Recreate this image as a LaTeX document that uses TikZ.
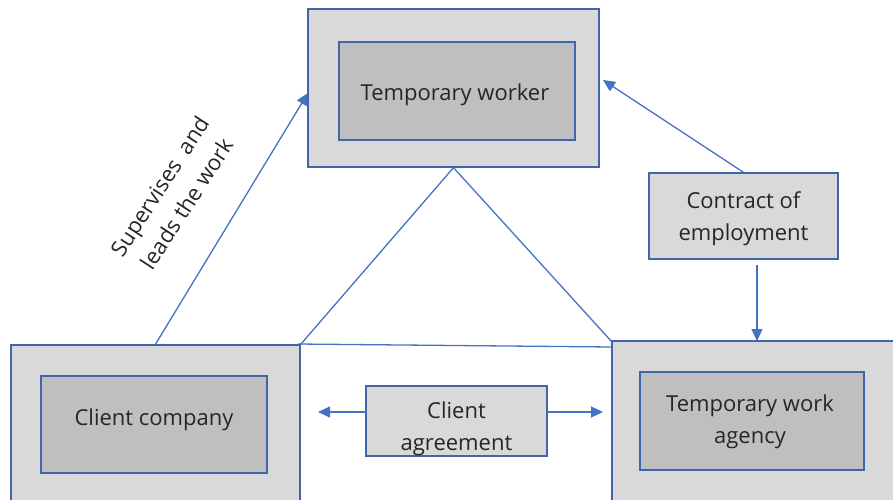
\documentclass[tikz,border=0pt]{standalone}
\usepackage{fontspec}
\setmainfont{Open Sans}
\usetikzlibrary{arrows.meta}
\definecolor{boxblue}{HTML}{3F66A8}
\definecolor{linkblue}{HTML}{4472C4}
\definecolor{outerfill}{HTML}{D9D9D9}
\definecolor{innerfill}{HTML}{BFBFBF}
\definecolor{txt}{HTML}{262626}
\begin{document}
\begin{tikzpicture}[x=1pt,y=-1pt,
  outerbox/.style={draw=boxblue, fill=outerfill, line width=1.3pt, inner sep=0pt},
  innerbox/.style={draw=boxblue, fill=innerfill, line width=1.3pt, inner sep=0pt},
  labelbox/.style={draw=boxblue, fill=outerfill, line width=1.3pt, inner sep=0pt},
  boxtext/.style={text=txt, align=center, inner sep=0pt, font=\fontsize{22}{32}\selectfont},
  link/.style={draw=linkblue, line width=1.3pt},
  arr/.style={link, -{Triangle[length=12pt,width=11pt]}},
  rotlabel/.style={boxtext}
]
\path[use as bounding box] (0,0) rectangle (893,499);
\clip (0,0) rectangle (893,499);

% outer boxes
\node[outerbox, minimum width=291pt, minimum height=158pt] (wo) at (453.5,88) {};
\node[outerbox, minimum width=289pt, minimum height=200pt] (co) at (155.5,445) {};
\node[outerbox, minimum width=298pt, minimum height=200pt] (ao) at (761,441) {};

% inner boxes
\node[innerbox, minimum width=236pt, minimum height=98pt] (wi) at (457,91) {};
\node[innerbox, minimum width=226pt, minimum height=97pt] (ci) at (154,424.5) {};
\node[innerbox, minimum width=224pt, minimum height=98pt] (ai) at (752,421) {};

% label boxes
\node[labelbox, minimum width=189pt, minimum height=86pt] (con) at (743.5,216) {};
\node[labelbox, minimum width=181pt, minimum height=70pt] (agr) at (456.5,421) {};

% texts
\node[boxtext] (wit) at (455,95) {Temporary worker};
\node[boxtext] (cit) at (154,420) {Client company};
\node[boxtext] (ait) at (750,422) {Temporary work\\agency};
\node[boxtext] (cont) at (743.5,219) {Contract of\\employment};
\node[boxtext] (agrt) at (456.5,429) {Client\\agreement};

% rotated label
\node[rotlabel, rotate=57] (sup) at (173,195) {Supervises \ and\\leads the work};

% coordinates for connector ends
\coordinate (supS) at (155,345);
\coordinate (supE) at (308,93);
\coordinate (conT) at (603,80);
\coordinate (conS) at (757,265);
\coordinate (conE) at (757,341);
\coordinate (agrL) at (366,412);
\coordinate (agrLe) at (318,412);
\coordinate (agrR) at (547,412);
\coordinate (agrRe) at (603,412);
\coordinate (triL) at (298,344);
\coordinate (triR) at (612,347);
\coordinate (triRt) at (612,342);

% connectors
\draw[arr] (supS) -- (supE);
\draw[link] (wo.south) -- (co.north east);
\draw[link] (wo.south) -- (triRt);
\draw[link] (triL) -- (triR);
\draw[arr] (con.north) -- (conT);
\draw[arr] (conS) -- (conE);
\draw[arr] (agrL) -- (agrLe);
\draw[arr] (agrR) -- (agrRe);
\end{tikzpicture}
\end{document}
